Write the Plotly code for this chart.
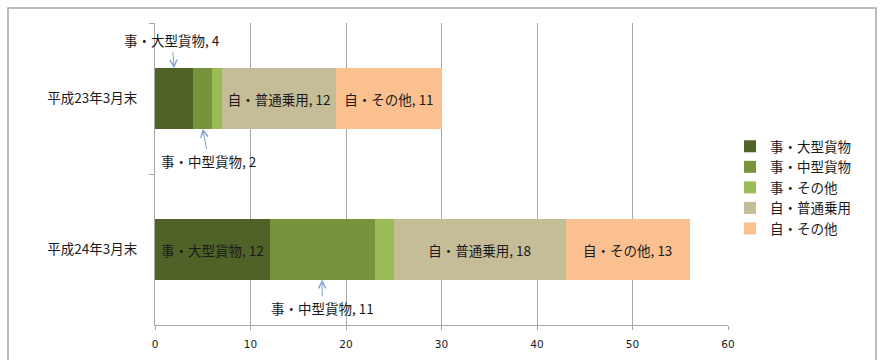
import plotly.graph_objects as go
import numpy as np

categories = ["平成23年3月末", "平成24年3月末"]
series_names = ["事・大型貨物", "事・中型貨物", "事・その他", "自・普通乗用", "自・その他"]
values = {
    "事・大型貨物": [4, 12],
    "事・中型貨物": [2, 11],
    "事・その他": [1, 2],
    "自・普通乗用": [12, 18],
    "自・その他": [11, 13],
}
colors = ["#4f6228", "#77933c", "#9bbb59", "#c4bd97", "#fac090"]
# which labels are drawn inside the bar (others via callouts)
inside_label = {
    "事・大型貨物": [False, True],
    "事・中型貨物": [False, False],
    "事・その他": [False, False],
    "自・普通乗用": [True, True],
    "自・その他": [True, True],
}
xticks = [0, 10, 20, 30, 40, 50, 60]

FONT = "Noto Sans CJK JP"
FS = 13.5
W, H = 880, 360
ml, mr, mt, mb = 155, 152, 23, 35
pw, ph = W - ml - mr, H - mt - mb

fig = go.Figure()
for name, col in zip(series_names, colors):
    vals = values[name]
    texts = [f"{name}, {v}" if inside_label[name][i] else "" for i, v in enumerate(vals)]
    fig.add_trace(go.Bar(
        y=categories, x=vals, name=name, orientation="h",
        marker=dict(color=col, line=dict(width=0)),
        width=0.4,
        text=texts, textposition="inside", insidetextanchor="middle",
        constraintext="none",
        insidetextfont=dict(color="#1a1a1a", size=FS, family=FONT),
        hoverinfo="skip",
    ))

# callout annotations for small segments
cum = np.zeros(len(categories))
starts = {}
for name in series_names:
    starts[name] = cum.copy()
    cum = cum + np.array(values[name])

callouts = [
    ("事・大型貨物", 0, -0.2, -28, -2),
    ("事・中型貨物", 0, 0.2, 32, 6),
    ("事・中型貨物", 1, 1.2, 28, 0),
]
for name, ci, ytip, ay, ax in callouts:
    v = values[name][ci]
    xm = starts[name][ci] + v / 2
    fig.add_annotation(
        x=xm, y=ytip, xref="x", yref="y",
        text=f"{name}, {v}", showarrow=True,
        ax=ax, ay=ay, arrowhead=5, arrowsize=1.4, arrowwidth=1,
        arrowcolor="#7f9fcf", standoff=0, startstandoff=0,
        font=dict(size=FS, color="#1a1a1a", family=FONT),
    )

# outer chart border
fig.add_shape(type="rect", xref="paper", yref="paper",
              x0=(8 - ml) / pw, x1=(876 - ml) / pw,
              y0=(H - mb - 364) / ph, y1=(H - mb - 8) / ph,
              line=dict(color="#a6a6a6", width=1.5), fillcolor="rgba(0,0,0,0)",
              layer="below")

fig.update_layout(
    width=W, height=H,
    margin=dict(l=ml, r=mr, t=mt, b=mb, autoexpand=False),
    barmode="stack",
    paper_bgcolor="white", plot_bgcolor="white",
    font=dict(family=FONT, size=FS, color="#1a1a1a"),
    showlegend=True,
    legend=dict(
        x=(730 - ml) / pw, xanchor="left",
        y=(H - mb - 131) / ph, yanchor="top",
        font=dict(size=FS, family=FONT, color="#1a1a1a"),
        traceorder="normal", bgcolor="rgba(0,0,0,0)",
        tracegroupgap=0, itemwidth=30,
    ),
    xaxis=dict(
        range=[0, 60], tickvals=xticks, ticktext=[str(t) for t in xticks],
        showgrid=True, gridcolor="#a6a6a6", gridwidth=1,
        showline=True, linecolor="#a6a6a6", linewidth=1,
        ticks="outside", ticklen=4, tickcolor="#a6a6a6",
        ticklabelstandoff=5, automargin=False,
        tickfont=dict(family="DejaVu Sans", size=10.5, color="#1a1a1a"),
        zeroline=False, fixedrange=True,
    ),
    yaxis=dict(
        categoryorder="array", categoryarray=categories,
        range=[1.5, -0.5],
        showline=True, linecolor="#a6a6a6", linewidth=1,
        ticks="outside", ticklen=5, tickcolor="#a6a6a6", tickson="boundaries",
        ticklabelstandoff=14, automargin=False,
        tickfont=dict(size=FS, family=FONT, color="#1a1a1a"),
        showgrid=False, zeroline=False, fixedrange=True,
    ),
)

fig.write_html("out.html")
